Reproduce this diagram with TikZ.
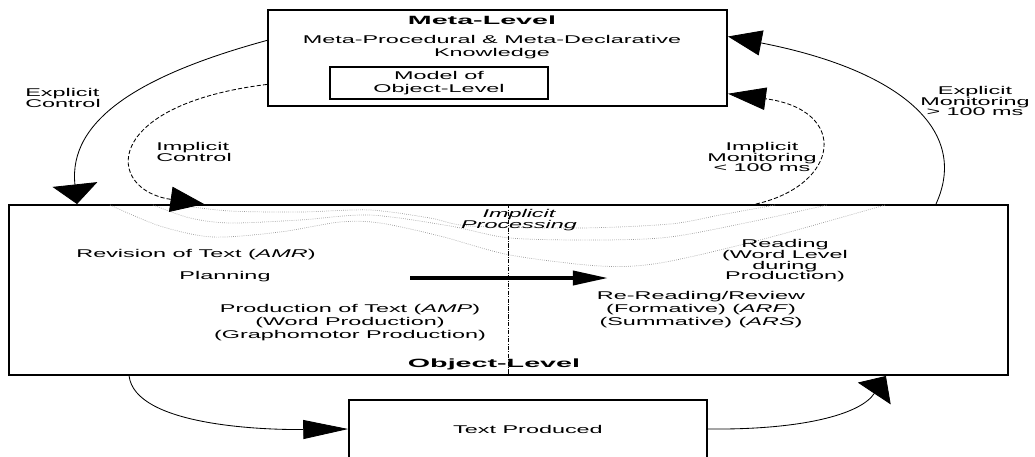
\documentclass[tikz,border=0pt]{standalone}
\usepackage{fontspec}
\setmainfont{Liberation Sans}[FakeStretch=2.08]
\newfontfamily\levelfont{Liberation Sans}[FakeStretch=2.4]
\usetikzlibrary{arrows.meta}
\usetikzlibrary{calc}
\tikzset{
    txt/.style={font=\fontsize{8}{9.2}\selectfont, inner sep=0pt, align=center},
    tight/.style={font=\fontsize{8}{7.6}\selectfont},
    level/.style={font=\levelfont\bfseries\fontsize{8.5}{9}\selectfont},
    levelbox/.style={draw, line width=1.3pt, inner sep=0pt},
    smallbox/.style={draw, line width=1pt},
    explicit/.style={line width=0.6pt},
    implicit/.style={line width=0.6pt, dash pattern=on 3pt off 1.5pt},
    processing/.style={gray!80, densely dotted, line width=0.5pt},
    divider/.style={line width=0.5pt, dash pattern=on 3pt off 1pt on 0.6pt off 1pt},
    flow/.style={line width=2.6pt, -{Triangle[length=25pt,width=10pt]}},
    tip-down/.style={-{Triangle[length=14pt,width=32pt]}},
    tip-right/.style={-{Triangle[length=32pt,width=13.5pt]}},
    tip-up/.style={-{Triangle[length=15pt,width=28pt]}},
    tip-diag/.style={-{Triangle[length=24pt,width=18pt]}},
    tip-flat/.style={-{Triangle[length=27pt,width=16pt]}}
}
\begin{document}
\begin{tikzpicture}[x=0.025cm, y=-0.025cm]
    \clip (0,0) rectangle (1035,456);

    \node[levelbox, minimum width=11.475cm, minimum height=2.4cm] (meta) at (497.5,58) {};
    \node[txt, level] (meta-title) at (482,20) {Meta-Level};
    \node[txt] (meta-know) at (492,47) {Meta-Procedural \& Meta-Declarative\\Knowledge};
    \node[smallbox, txt, minimum width=5.45cm, minimum height=0.8cm] (model) at (439,83) {Model of\\Object-Level};

    \node[levelbox, minimum width=24.975cm, minimum height=4.25cm] (obj) at (508.5,290) {};
    \node[smallbox, txt, minimum width=8.95cm, minimum height=1.45cm] (prod) at (528,429) {Text Produced};

    \draw[processing] plot[smooth] coordinates {(110,205) (160,226) (213,237) (280,232) (340,222) (380,223)
        (440,236) (510,255) (600,266) (660,263) (760,240) (885,205)};
    \draw[processing] plot[smooth] coordinates {(153,205) (190,218) (230,223) (300,220) (370,215) (450,226)
        (510,238) (600,240) (670,237) (750,222) (827,205)};
    \draw[processing] plot[smooth] coordinates {(177,205) (230,211) (300,212) (370,210) (430,218) (470,226)
        (580,228) (670,224) (720,215) (775,205)};

    \draw[divider] (obj.north) -- (obj.south);
    \node[txt, level] (obj-title) at (494,364) {Object-Level};

    \node[txt, tight, align=left] (explicit-control) at (63,98) {Explicit\\Control};
    \node[txt, tight, align=left] (implicit-control) at (194,152) {Implicit\\Control};
    \node[txt, tight] (implicit-monitoring) at (762,157) {Implicit\\Monitoring\\< 100 ms};
    \node[txt, tight] (explicit-monitoring) at (975,101) {Explicit\\Monitoring\\> 100 ms};
    \node[txt, tight, font=\fontsize{8}{7.6}\selectfont\itshape] (implicit-processing) at (519,220) {Implicit\\Processing};

    \node[txt] (revision) at (196,255) {Revision of Text (\textit{AMR})};
    \node[txt] (planning) at (225,277) {Planning};
    \node[txt] (production) at (350,323) {Production of Text (\textit{AMP})\\(Word Production)\\(Graphomotor Production)};
    \node[txt, tight] (reading) at (785,261) {Reading\\(Word Level\\during\\Production)};
    \node[txt] (rereading) at (701,310) {Re-Reading/Review\\(Formative) (\textit{ARF})\\(Summative) (\textit{ARS})};

    \coordinate (flow-start) at (410,278);
    \coordinate (flow-end) at (608,278);
    \draw[flow] (flow-start) -- (flow-end);

    \draw[explicit, tip-down] ($(meta.north west)!0.32!(meta.south west)$)
        .. controls (140,75) and (68,120) .. ($(obj.north west)!0.069!(obj.north east)$);
    \draw[implicit, tip-diag] ($(meta.north west)!0.77!(meta.south west)$)
        .. controls (100,105) and (105,190) .. ($(obj.north west)!0.196!(obj.north east)$);
    \draw[implicit, tip-flat] ($(obj.north west)!0.747!(obj.north east)$)
        .. controls (840,185) and (850,110) .. ($(meta.north east)!0.865!(meta.south east)$);
    \draw[explicit, tip-diag] ($(obj.north west)!0.927!(obj.north east)$)
        .. controls (970,130) and (900,70) .. ($(meta.north east)!0.28!(meta.south east)$);

    \draw[explicit, tip-right] ($(obj.south west)!0.121!(obj.south east)$)
        .. controls (135,425) and (260,430) .. (prod.west);
    \draw[explicit, tip-up] (prod.east)
        .. controls (800,430) and (860,415) .. ($(obj.south west)!0.877!(obj.south east)$);
\end{tikzpicture}
\end{document}
